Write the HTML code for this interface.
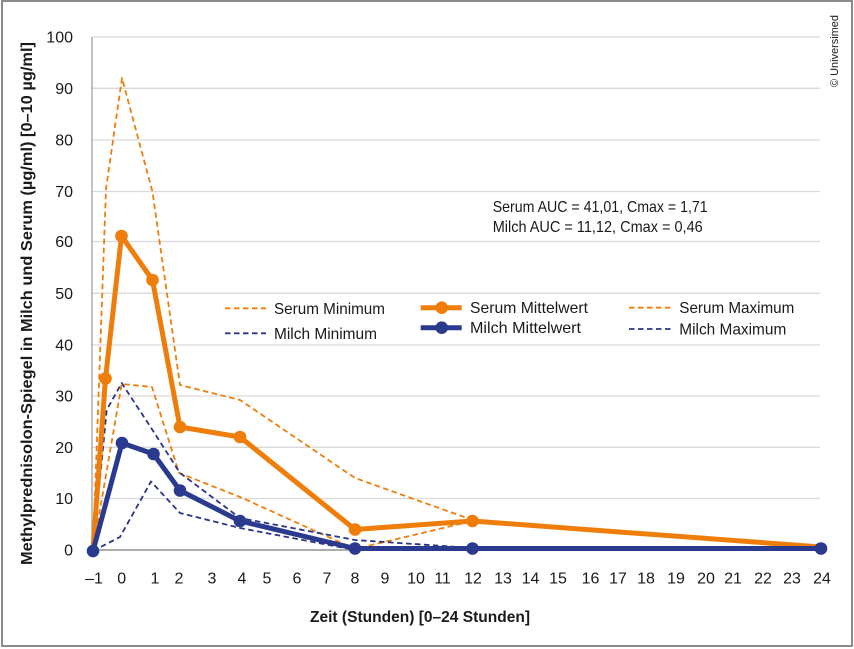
<!DOCTYPE html>
<html><head><meta charset="utf-8"><style>
html,body{margin:0;padding:0;background:#fff;}
svg{display:block;}
text{font-family:"Liberation Sans",sans-serif;fill:#1a1a1a;}
</style></head><body>
<svg width="854" height="649" viewBox="0 0 854 649" xmlns="http://www.w3.org/2000/svg">
<rect x="0" y="0" width="854" height="649" fill="#fff"/>
<rect x="2" y="1" width="850" height="645" fill="none" stroke="#8a8a8a" stroke-width="2"/>
<!-- gridlines -->
<g stroke="#d9d9d9" stroke-width="1.3">
<line x1="92" x2="820" y1="37" y2="37"/>
<line x1="92" x2="820" y1="88.3" y2="88.3"/>
<line x1="92" x2="820" y1="140" y2="140"/>
<line x1="92" x2="820" y1="191.5" y2="191.5"/>
<line x1="92" x2="820" y1="241.5" y2="241.5"/>
<line x1="92" x2="820" y1="293.3" y2="293.3"/>
<line x1="92" x2="820" y1="345" y2="345"/>
<line x1="92" x2="820" y1="396" y2="396"/>
<line x1="92" x2="820" y1="447.3" y2="447.3"/>
<line x1="92" x2="820" y1="498.5" y2="498.5"/>
</g>
<line x1="92" x2="92" y1="37" y2="550" stroke="#a0a0a0" stroke-width="1.3"/>
<line x1="92" x2="821" y1="550" y2="550" stroke="#7a7a7a" stroke-width="1.3"/>
<!-- y tick labels -->
<g font-size="16" text-anchor="end">
<text x="73" y="42.5">100</text>
<text x="73" y="93.8">90</text>
<text x="73" y="145.5">80</text>
<text x="73" y="197">70</text>
<text x="73" y="247">60</text>
<text x="73" y="298.8">50</text>
<text x="73" y="350.5">40</text>
<text x="73" y="401.5">30</text>
<text x="73" y="452.8">20</text>
<text x="73" y="504">10</text>
<text x="73" y="555.5">0</text>
</g>
<!-- x tick labels -->
<g font-size="16" text-anchor="middle">
<text x="94" y="583.5">–1</text>
<text x="121.7" y="583.5">0</text>
<text x="155" y="583.5">1</text>
<text x="179" y="583.5">2</text>
<text x="212" y="583.5">3</text>
<text x="242" y="583.5">4</text>
<text x="267" y="583.5">5</text>
<text x="297" y="583.5">6</text>
<text x="327" y="583.5">7</text>
<text x="355" y="583.5">8</text>
<text x="385" y="583.5">9</text>
<text x="416" y="583.5">10</text>
<text x="442.5" y="583.5">11</text>
<text x="473" y="583.5">12</text>
<text x="503" y="583.5">13</text>
<text x="530.5" y="583.5">14</text>
<text x="558" y="583.5">15</text>
<text x="590.5" y="583.5">16</text>
<text x="618" y="583.5">17</text>
<text x="646" y="583.5">18</text>
<text x="676" y="583.5">19</text>
<text x="706" y="583.5">20</text>
<text x="733" y="583.5">21</text>
<text x="763" y="583.5">22</text>
<text x="792" y="583.5">23</text>
<text x="822" y="583.5">24</text>
</g>
<!-- axis titles -->
<text x="310" y="622" font-size="16" font-weight="bold" textLength="220" lengthAdjust="spacingAndGlyphs">Zeit (Stunden) [0–24 Stunden]</text>
<text transform="translate(32,565) rotate(-90)" x="0" y="0" font-size="16" font-weight="bold" textLength="523" lengthAdjust="spacingAndGlyphs">Methylprednisolon-Spiegel in Milch und Serum (µg/ml) [0–10 µg/ml]</text>
<text transform="translate(838,87) rotate(-90)" x="0" y="0" font-size="11" fill="#333" textLength="72" lengthAdjust="spacingAndGlyphs">© Universimed</text>
<!-- annotation -->
<text x="492.7" y="212" font-size="16" textLength="215" lengthAdjust="spacingAndGlyphs">Serum AUC = 41,01, Cmax = 1,71</text>
<text x="492.7" y="232" font-size="16" textLength="210" lengthAdjust="spacingAndGlyphs">Milch AUC = 11,12, Cmax = 0,46</text>
<!-- dashed series -->
<g fill="none" stroke-width="1.8" stroke-dasharray="5.5,3.5" stroke-linejoin="round">
<polyline stroke="#ef7d0a" points="93,550 106,189 122,78 152.5,192 180,385 240,400 355,478 472.5,520 821,547"/>
<polyline stroke="#ef7d0a" points="93,550 121.7,384 152,387 179,473 240,497 355,549 472.5,521 821,547"/>
<polyline stroke="#2b3488" points="93,550 106.7,410 121.7,383 152.5,430 180,473 240,518 355,540 472.5,548 821,548.5"/>
<polyline stroke="#2b3488" points="93,551 120,537 151,481.5 180,513 240,528 355,550 472.5,549 821,549"/>
</g>
<!-- serum mean -->
<polyline fill="none" stroke="#ef7d0a" stroke-width="5" stroke-linejoin="round" points="93,550 105.5,378.5 121.5,236 152.5,280 180,427 240,437 355,529.5 472.5,521 821,547"/>
<!-- milch mean -->
<polyline fill="none" stroke="#2a3a8e" stroke-width="5" stroke-linejoin="round" points="93,551 122,443 153.5,454 180,490.5 240,521 355,548.5 472.5,548.5 821,548.5"/>
<g fill="#ef7d0a">
<circle cx="105.5" cy="378.5" r="6.3"/>
<circle cx="121.5" cy="236" r="6.3"/>
<circle cx="152.5" cy="280" r="6.3"/>
<circle cx="180" cy="427" r="6.3"/>
<circle cx="240" cy="437" r="6.3"/>
<circle cx="355" cy="529.5" r="6.3"/>
<circle cx="472.5" cy="521" r="6.3"/>
</g>
<g fill="#2a3a8e">
<circle cx="93" cy="551" r="6.3"/>
<circle cx="122" cy="443" r="6.3"/>
<circle cx="153.5" cy="454" r="6.3"/>
<circle cx="180" cy="490.5" r="6.3"/>
<circle cx="240" cy="521" r="6.3"/>
<circle cx="355" cy="548.5" r="6.3"/>
<circle cx="472.5" cy="548.5" r="6.3"/>
<circle cx="821" cy="548.5" r="6.3"/>
</g>
<!-- legend -->
<g fill="none" stroke-width="1.8" stroke-dasharray="5.5,3.5">
<line x1="225" x2="266" y1="308.3" y2="308.3" stroke="#ef7d0a"/>
<line x1="225" x2="266" y1="333.3" y2="333.3" stroke="#2b3488"/>
<line x1="629" x2="671" y1="307.7" y2="307.7" stroke="#ef7d0a"/>
<line x1="629" x2="671" y1="329" y2="329" stroke="#2b3488"/>
</g>
<line x1="420.7" x2="461.7" y1="307.7" y2="307.7" stroke="#ef7d0a" stroke-width="5"/>
<circle cx="441.7" cy="307.7" r="6.3" fill="#ef7d0a"/>
<line x1="420.7" x2="461.7" y1="327.7" y2="327.7" stroke="#2a3a8e" stroke-width="5"/>
<circle cx="441.7" cy="327.7" r="6.3" fill="#2a3a8e"/>
<g font-size="16">
<text x="274" y="313.8" textLength="111" lengthAdjust="spacingAndGlyphs">Serum Minimum</text>
<text x="274" y="338.8" textLength="103" lengthAdjust="spacingAndGlyphs">Milch Minimum</text>
<text x="470" y="313.2" textLength="118" lengthAdjust="spacingAndGlyphs">Serum Mittelwert</text>
<text x="470" y="333.2" textLength="111" lengthAdjust="spacingAndGlyphs">Milch Mittelwert</text>
<text x="679.3" y="313.2" textLength="115" lengthAdjust="spacingAndGlyphs">Serum Maximum</text>
<text x="679.3" y="334.5" textLength="107" lengthAdjust="spacingAndGlyphs">Milch Maximum</text>
</g>
</svg>
</body></html>
